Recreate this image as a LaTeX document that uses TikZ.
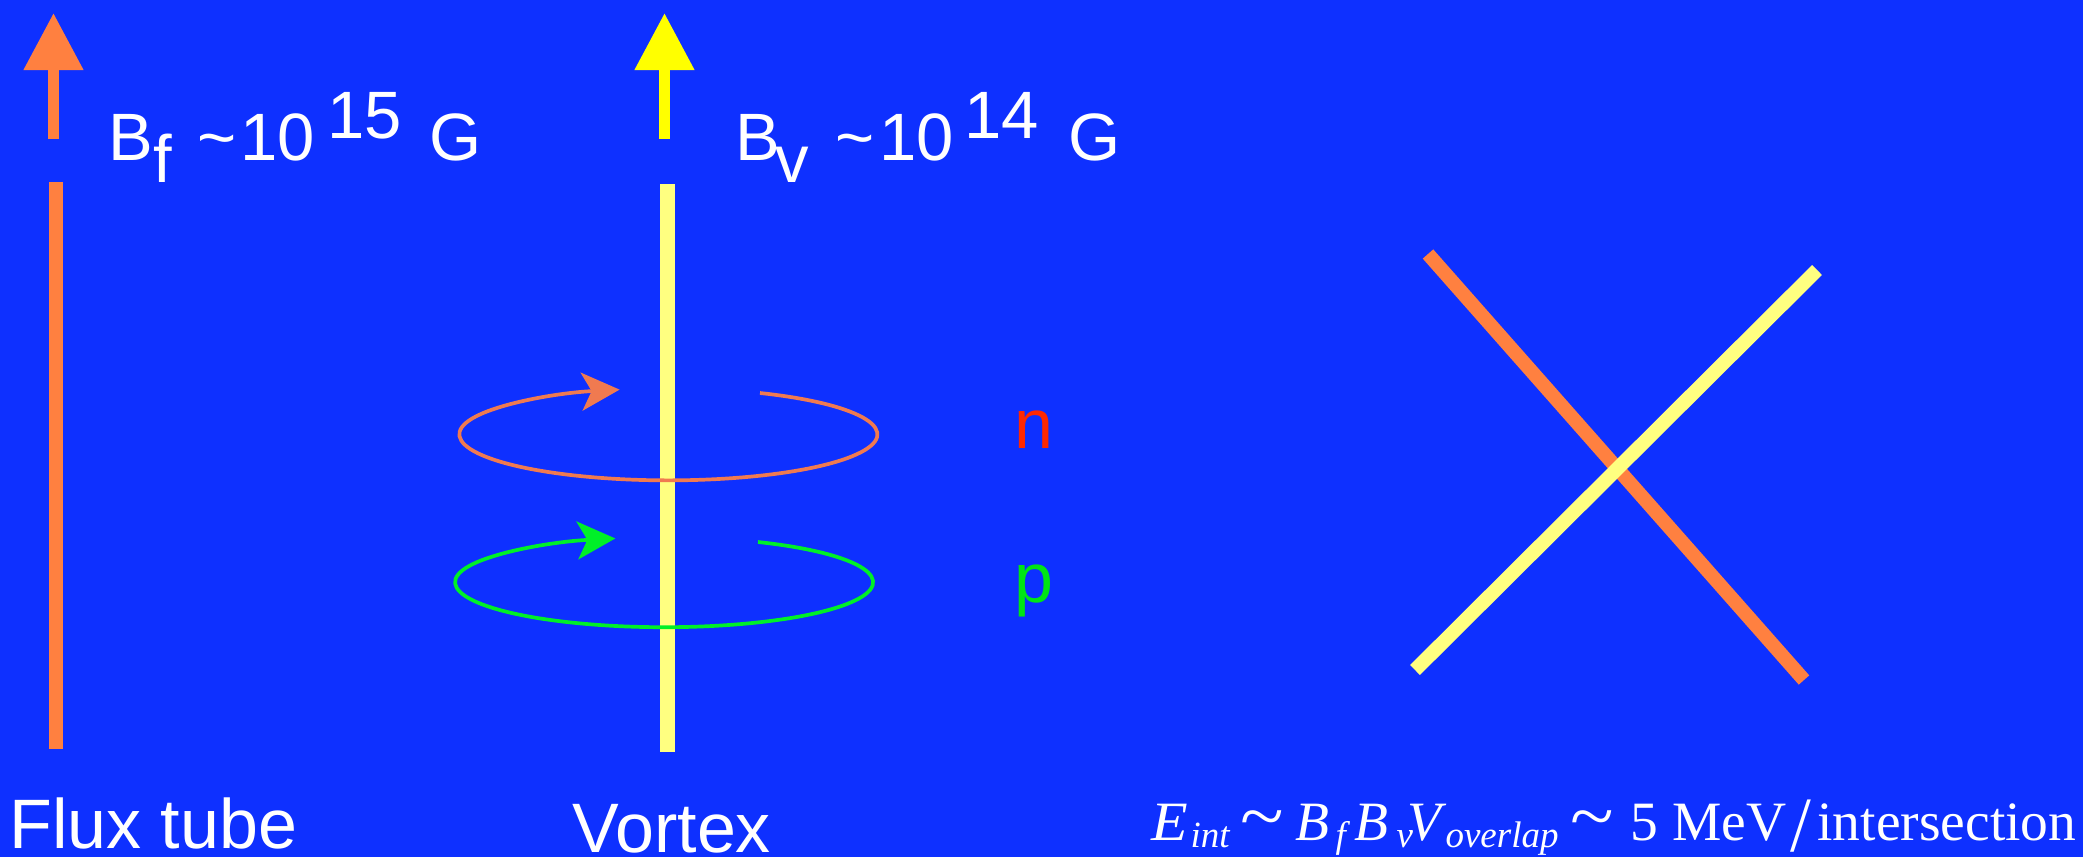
\documentclass[tikz,border=0pt]{standalone}
\usepackage{fontspec}
\setmainfont{Liberation Sans}
\newfontfamily\tms{Liberation Serif}
\usetikzlibrary{arrows.meta}
\definecolor{bgblue}{RGB}{14,48,255}
\definecolor{fluxor}{RGB}{255,128,64}
\definecolor{arrowye}{RGB}{255,255,0}
\definecolor{lineye}{RGB}{255,255,128}
\definecolor{ellor}{RGB}{240,122,80}
\definecolor{ellgr}{RGB}{0,240,40}
\definecolor{nred}{RGB}{255,40,0}
\definecolor{pgreen}{RGB}{0,230,20}
% piece placed at a horizontal offset from the start of the formula
\newcommand{\pc}[2]{\makebox[0pt][l]{\hspace{#1pt}#2}}
\newcommand{\subx}[1]{\raisebox{-7pt}{\fontsize{37}{38}\selectfont\itshape #1}}
\newcommand{\simx}{\scalebox{1.45}[1.3]{\textasciitilde}}
\begin{document}
\begin{tikzpicture}[x=1pt,y=-1pt,
  lbl/.style={anchor=base west, inner sep=0pt, outer sep=0pt, text=white, font=\fontsize{67}{70}\selectfont},
  biglbl/.style={lbl, font=\fontsize{70}{72}\selectfont},
  formula/.style={anchor=base west, inner sep=0pt, outer sep=0pt, text=white, font=\tms\fontsize{55.5}{58}\selectfont},
  fieldarrow/.style={line width=11pt, -{Triangle[length=57pt,width=57pt]}},
  tube/.style={line width=14pt},
  orbit/.style={line width=3.7pt, -{Stealth[length=38pt,width=38pt,inset=10pt]}}
]
\useasboundingbox (0,0) rectangle (2083,857);
\fill[bgblue] (0,0) rectangle (2083,857);

% flux tube
\coordinate (ftA) at (53.5,139);
\coordinate (ftT) at (53.5,13);
\coordinate (ft1) at (56,182);
\coordinate (ft2) at (56,749);
\draw[fieldarrow, fluxor] (ftA) -- (ftT);
\draw[tube, fluxor] (ft1) -- (ft2);

% vortex
\coordinate (vxA) at (664.5,139);
\coordinate (vxT) at (664.5,13);
\coordinate (vx1) at (667,184);
\coordinate (vx2) at (667,752);
\draw[fieldarrow, arrowye] (vxA) -- (vxT);
\draw[tube, lineye, line width=15pt] (vx1) -- (vx2);

% orbits
\coordinate (nstart) at (760,393);
\coordinate (pstart) at (758,542);
\draw[orbit, ellor] (nstart) arc[start angle=-64, end angle=256.5, x radius=209, y radius=46];
\draw[orbit, ellgr] (pstart) arc[start angle=-63.3, end angle=256.5, x radius=209, y radius=45];

% labels
\node[lbl] (bf) at (108,160) {B\hspace{1pt}\raisebox{-22pt}{f}\hspace{25.4pt}\textasciitilde\hspace{3.9pt}10\hspace{12.4pt}\raisebox{22pt}{15}\hspace{27.5pt}G};
\node[lbl] (bv) at (735,160) {B\hspace{-4pt}\raisebox{-22pt}{v}\hspace{26.4pt}\textasciitilde\hspace{4.9pt}10\hspace{10.4pt}\raisebox{22pt}{14}\hspace{29.5pt}G};
\node[biglbl, text=nred] (nlab) at (1014.5,448) {n};
\node[biglbl, text=pgreen] (plab) at (1014.5,602) {p};
\node[biglbl] (fluxlab) at (9.3,848) {Flux tube};
\node[biglbl] (vortlab) at (572.5,852) {Vortex};

% crossing
\coordinate (o1) at (1428,254);
\coordinate (o2) at (1804,680);
\coordinate (y1) at (1415,670);
\coordinate (y2) at (1817,270);
\draw[tube, fluxor] (o1) -- (o2);
\draw[tube, lineye] (y1) -- (y2);

\node[formula] (eint) at (1150,840) {\pc{1}{\scalebox{1.08}[1]{\textit{E}}}\pc{40}{\subx{int}}\pc{90}{\simx}\pc{145}{\textit{B}}\pc{185}{\subx{f}}\pc{204}{\textit{B}}\pc{246}{\subx{v}}\pc{257}{\textit{V}}\pc{295}{\subx{overlap}}\pc{420}{\simx}\pc{480}{5}\pc{522}{MeV}\pc{640}{\raisebox{-11pt}{\scalebox{1.35}[1.41]{/}}}\pc{667}{intersection}\hspace{923pt}};
\end{tikzpicture}
\end{document}
